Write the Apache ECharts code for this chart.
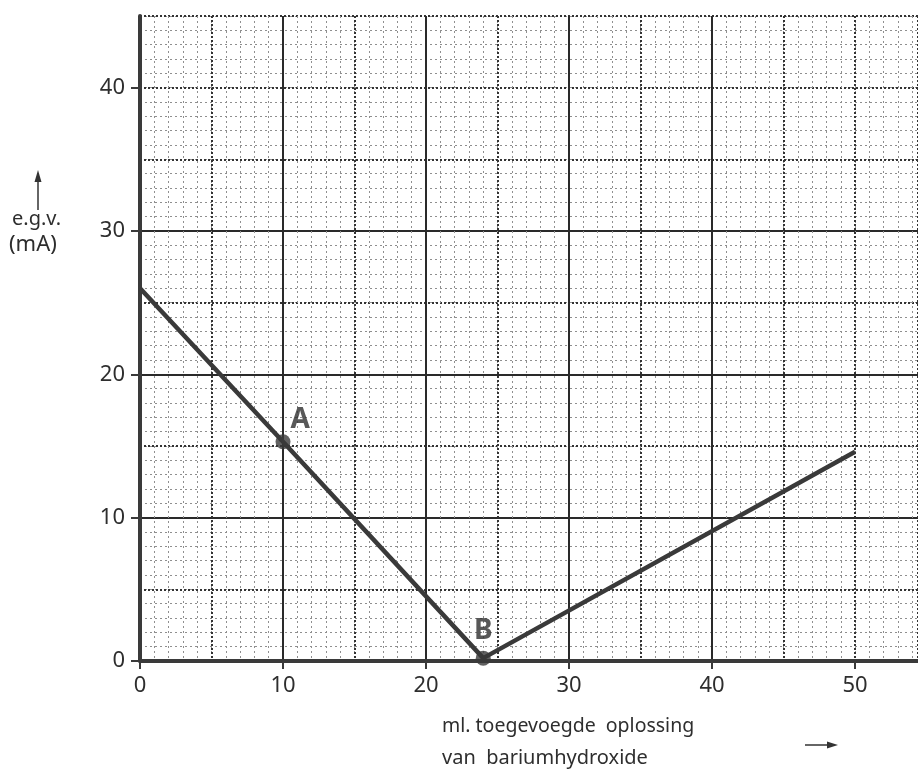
<!DOCTYPE html>
<html>
<head>
<meta charset="utf-8">
<script src="https://cdn.jsdelivr.net/npm/echarts@6/dist/echarts.min.js"></script>
<style>html,body{margin:0;padding:0;background:#fff}#c{width:918px;height:774px}</style>
</head>
<body>
<div id="c"></div>
<script>
// Data
const curveX = [0, 10, 24, 50];
const curveY = [26, 15.3, 0.2, 14.6];
const pointNames = ['A', 'B'];
const pointX = [10, 24];
const pointY = [15.3, 0.2];
const xTickValues = [0, 10, 20, 30, 40, 50];
const yTickValues = [0, 10, 20, 30, 40];
const yAxisTitle = ['e.g.v.', '(mA)'];
const xAxisTitle = ['ml. toegevoegde  oplossing', 'van  bariumhydroxide'];

const FONT = 'Noto Sans';
const INK = '#2e2e2e';
const X_MAX = 54.4, Y_MAX = 45;

function gridAxis(interval, color, width, type, extra) {
  return Object.assign({
    type: 'value', min: 0, interval: interval,
    axisLine: { show: false }, axisTick: { show: false }, axisLabel: { show: false },
    splitLine: { show: true, lineStyle: { color: color, width: width, type: type } }
  }, extra || {});
}

const xLabelAxis = {
  type: 'value', min: 0, max: X_MAX, interval: 10, position: 'bottom',
  axisLine: { show: true, onZero: false, lineStyle: { color: '#3a3a3a', width: 4 } },
  axisTick: { show: true, inside: false, length: 8, customValues: xTickValues, lineStyle: { color: '#3a3a3a', width: 2 } },
  axisLabel: { show: true, margin: 14, color: INK, fontSize: 22, fontFamily: FONT, customValues: xTickValues },
  splitLine: { show: true, showMinLine: false, showMaxLine: false, lineStyle: { color: '#2a2a2a', width: 2 } }
};
const yLabelAxis = {
  type: 'value', min: 0, max: Y_MAX, interval: 10, position: 'left',
  axisLine: { show: true, onZero: false, lineStyle: { color: '#3a3a3a', width: 4 } },
  axisTick: { show: true, inside: false, length: 9, customValues: yTickValues, lineStyle: { color: '#3a3a3a', width: 2 } },
  axisLabel: { show: true, margin: 15, color: INK, fontSize: 22, fontFamily: FONT, customValues: yTickValues },
  splitLine: { show: true, showMinLine: false, showMaxLine: false, lineStyle: { color: '#2a2a2a', width: 2 } }
};

const option = {
  backgroundColor: '#fff',
  animation: false,
  grid: { left: 140, right: 0, top: 16, bottom: 113 },
  xAxis: [
    gridAxis(1, '#8f8f8f', 1, [2, 3], { max: X_MAX }),
    gridAxis(5, '#333', 2, [2, 2], { max: X_MAX }),
    xLabelAxis
  ],
  yAxis: [
    gridAxis(1, '#8f8f8f', 1, [2, 3], { max: Y_MAX }),
    gridAxis(5, '#333', 2, [2, 2], { max: Y_MAX }),
    yLabelAxis
  ],
  series: [
    {
      type: 'line', xAxisIndex: 2, yAxisIndex: 2, symbol: 'none', z: 5,
      lineStyle: { color: '#3a3a3a', width: 4.5 },
      data: curveX.map((x, i) => [x, curveY[i]])
    },
    {
      type: 'scatter', xAxisIndex: 2, yAxisIndex: 2, symbol: 'circle', symbolSize: 15, z: 6,
      itemStyle: { color: '#3a3a3a' },
      data: pointX.map((x, i) => ({
        value: [x, pointY[i]], name: pointNames[i],
        label: i === 0 ? { show: true, position: [15, -28] } : { show: true, position: 'top', distance: 6 }
      })),
      label: { formatter: p => p.name, color: INK, fontSize: 28, fontWeight: 'bold', fontFamily: FONT }
    }
  ],
  graphic: [
    { type: 'line', shape: { x1: 38, y1: 210, x2: 38, y2: 180 }, style: { stroke: '#333', lineWidth: 1.5 } },
    { type: 'polygon', shape: { points: [[38, 170], [34.5, 182], [41.5, 182]] }, style: { fill: '#333' } },
    { type: 'text', left: 12, top: 209, style: { text: yAxisTitle[0], fontSize: 20, fontFamily: FONT, fill: INK } },
    { type: 'text', left: 9, top: 234, style: { text: yAxisTitle[1], fontSize: 22, fontFamily: FONT, fill: INK } },
    { type: 'text', left: 442, top: 716, style: { text: xAxisTitle[0], fontSize: 19.5, fontFamily: FONT, fill: INK } },
    { type: 'text', left: 442, top: 748, style: { text: xAxisTitle[1], fontSize: 20, fontFamily: FONT, fill: INK } },
    { type: 'line', shape: { x1: 805, y1: 745, x2: 830, y2: 745 }, style: { stroke: '#333', lineWidth: 1.5 } },
    { type: 'polygon', shape: { points: [[838, 745], [827, 741.5], [827, 748.5]] }, style: { fill: '#333' } }
  ]
};
echarts.init(document.getElementById('c')).setOption(option);
</script>
</body>
</html>
